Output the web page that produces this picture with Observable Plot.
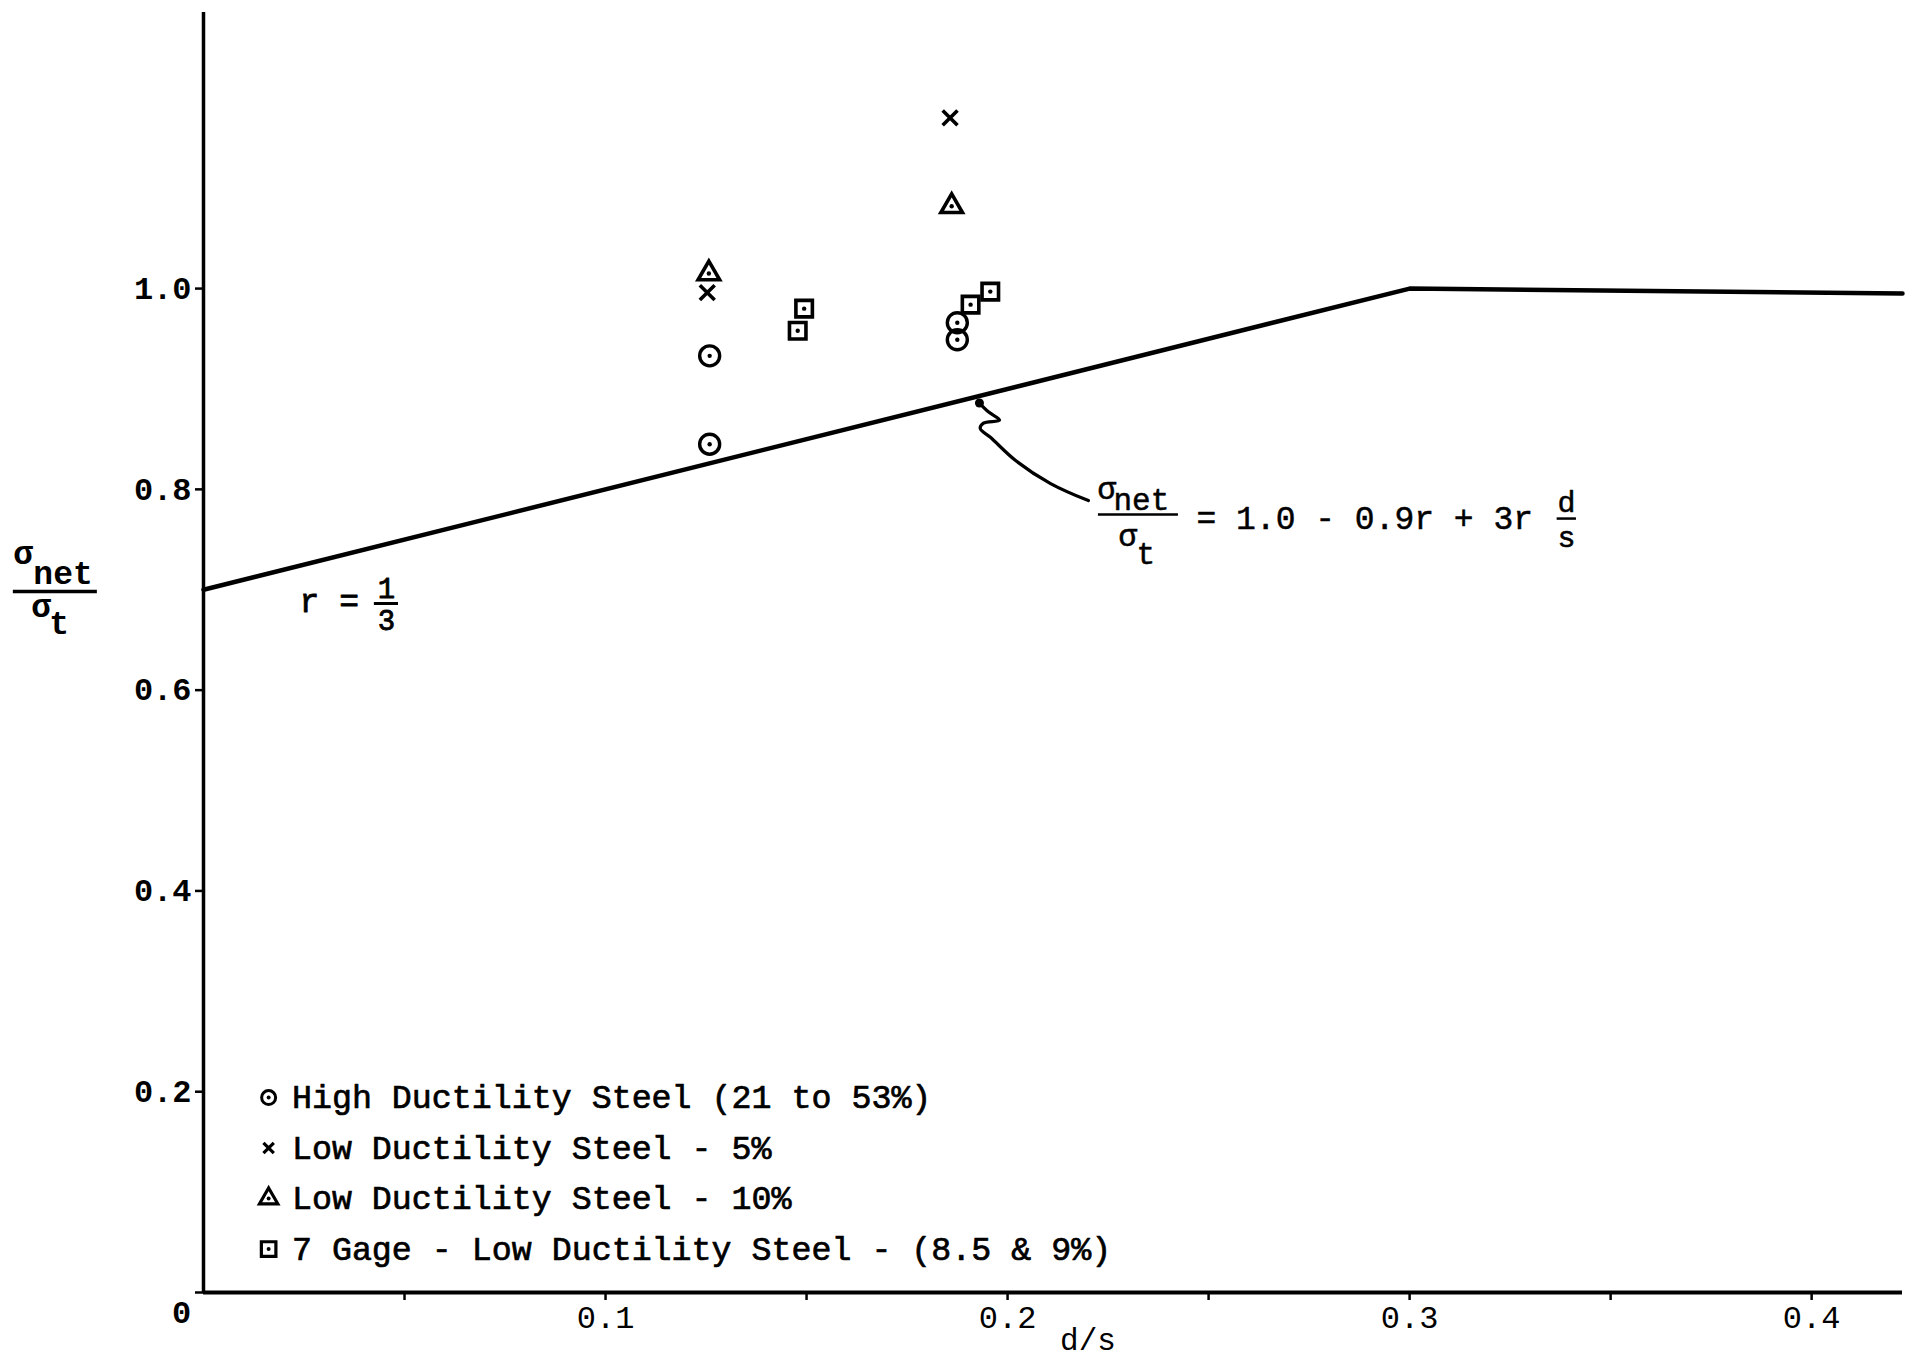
<!DOCTYPE html>
<html>
<head>
<meta charset="utf-8">
<script src="https://cdn.jsdelivr.net/npm/d3@7"></script>
<script src="https://cdn.jsdelivr.net/npm/@observablehq/plot@0.6"></script>
<style>
  body { margin: 0; background: #fff; }
  #chart svg { display: block; }
</style>
</head>
<body>
<div id="chart"></div>
<script>
// ---------- data ----------
const seriesNames = [
  "High Ductility Steel (21 to 53%)",
  "Low Ductility Steel - 5%",
  "Low Ductility Steel - 10%",
  "7 Gage - Low Ductility Steel - (8.5 & 9%)"
];
// High ductility steel (circles)
const highX = [0.1259, 0.1259, 0.1875, 0.1875];
const highY = [0.933, 0.845, 0.966, 0.949];
// Low ductility 5% (x)
const low5X = [0.1253, 0.1857];
const low5Y = [0.996, 1.170];
// Low ductility 10% (triangles)
const low10X = [0.1257, 0.1861];
const low10Y = [1.015, 1.082];
// 7 gage (squares)
const gageX = [0.1478, 0.1494, 0.1908, 0.1957];
const gageY = [0.958, 0.980, 0.984, 0.997];
// design curve sigma_net/sigma_t, r = 1/3
const curveX = [0, 0.3, 0.4226];
const curveY = [0.70, 1.0, 0.995];
// leader from the equation to the curve
const leaderX = [0.2201, 0.2107, 0.2020, 0.1958, 0.1932, 0.1940, 0.1980, 0.1953, 0.1930];
const leaderY = [0.7888, 0.8058, 0.8287, 0.8516, 0.8606, 0.8660, 0.8690, 0.8770, 0.8860];
// axes
const yTicks = [0, 0.2, 0.4, 0.6, 0.8, 1.0];
const xTicks = [0.05, 0.1, 0.15, 0.2, 0.25, 0.3, 0.35, 0.4];
const xLabelTicks = [0.1, 0.2, 0.3, 0.4];
const xDomain = [0, 0.4226];
const yDomain = [0, 1.275];

// ---------- build tables ----------
const zip = (xs, ys) => xs.map((x, i) => ({x, y: ys[i]}));
const high = zip(highX, highY);
const low5 = zip(low5X, low5Y);
const low10 = zip(low10X, low10Y);
const gage = zip(gageX, gageY);
const curve = zip(curveX, curveY);
const leader = zip(leaderX, leaderY);

// legend rows placed in data space (lower left of the frame)
const legendMarkX = 0.0162, legendTextX = 0.0220, legendTop = 0.1942, legendStep = 0.0503;
const legend = seriesNames.map((name, i) => ({name, i, x: legendMarkX, tx: legendTextX, y: legendTop - i * legendStep}));

// annotation anchors (data space)
const eqX = 0.2226, eqY = 0.7749;     // equation fraction bar start
const ylX = -0.0473, ylY = 0.6982;    // y label fraction bar start
const rX = 0.0234, rY = 0.6863;       // "r = 1/3"

const F = "Liberation Mono, Courier New, monospace";
const ink = "#000";
const T = (data, opts) => Plot.text(data, {fontFamily: F, fontSize: 33, fill: ink, ...opts});
const at = (x, y) => ({x: () => x, y: () => y});

const plot = Plot.plot({
  width: 1930,
  height: 1368,
  marginLeft: 203,
  marginRight: 28,
  marginTop: 12,
  marginBottom: 76,
  x: {domain: xDomain},
  y: {domain: yDomain},
  style: {fontFamily: F, background: "#fff", color: ink},
  marks: [
    // axes
    Plot.ruleX([0], {strokeWidth: 3.5, stroke: ink}),
    Plot.ruleY([0], {strokeWidth: 4, stroke: ink}),
    Plot.axisY({ticks: yTicks, tickSize: 8, tickPadding: 4, strokeWidth: 2.5, label: null,
      tickFormat: d => d === 0 ? "" : d.toFixed(1), fontSize: 32, fontWeight: "bold", fontFamily: F}),
    Plot.axisX({ticks: xTicks, tickSize: 8, tickPadding: 5, strokeWidth: 2.5, label: null,
      tickFormat: d => xLabelTicks.some(v => Math.abs(v - d) < 1e-9) ? d.toFixed(1) : "",
      fontSize: 32, fontFamily: F}),
    T(["0"], {x: () => 0, y: () => 0, text: d => d, dx: -22, dy: 20, fontSize: 32, fontWeight: "bold"}),
    T(["d/s"], {x: () => 0.22, frameAnchor: "bottom", text: d => d, dy: 57, fontSize: 31}),

    // design curve
    Plot.line(curve, {x: "x", y: "y", stroke: ink, strokeWidth: 4.5, strokeLinejoin: "round", strokeLinecap: "round"}),

    // data points
    Plot.dot(high, {x: "x", y: "y", r: 10, stroke: ink, strokeWidth: 3.4, fill: "none"}),
    Plot.dot(low5, {x: "x", y: "y", symbol: "times", r: 6.8, stroke: ink, strokeWidth: 3.6}),
    Plot.dot(low10, {x: "x", y: "y", symbol: "triangle", r: 8, stroke: ink, strokeWidth: 3.6, fill: "none"}),
    Plot.dot(gage, {x: "x", y: "y", symbol: "square", r: 9.3, stroke: ink, strokeWidth: 3.6, fill: "none"}),
    Plot.dot([...high, ...low10, ...gage], {x: "x", y: "y", r: 2.2, fill: ink}),

    // legend
    Plot.dot(legend.filter(d => d.i === 0), {x: "x", y: "y", r: 7, stroke: ink, strokeWidth: 3, fill: "none"}),
    Plot.dot(legend.filter(d => d.i === 1), {x: "x", y: "y", symbol: "times", r: 4.8, stroke: ink, strokeWidth: 3.2}),
    Plot.dot(legend.filter(d => d.i === 2), {x: "x", y: "y", symbol: "triangle", r: 6.8, stroke: ink, strokeWidth: 3.2, fill: "none"}),
    Plot.dot(legend.filter(d => d.i === 3), {x: "x", y: "y", symbol: "square", r: 8.2, stroke: ink, strokeWidth: 3.2, fill: "none"}),
    Plot.dot(legend.filter(d => d.i !== 1), {x: "x", y: "y", r: 2, fill: ink}),
    T(legend, {x: "tx", y: "y", text: "name", textAnchor: "start", fontSize: 33.3, stroke: ink, strokeWidth: 0.7}),

    // leader arrow
    Plot.line(leader, {x: "x", y: "y", curve: "catmull-rom", stroke: ink, strokeWidth: 3.2, strokeLinejoin: "round"}),
    Plot.dot(leader.slice(-1), {x: "x", y: "y", r: 4.5, fill: ink}),

    // equation: sigma_net / sigma_t = 1.0 - 0.9r + 3r d/s
    T(["σ"], {...at(eqX, eqY), text: d => d, textAnchor: "start", dx: -1, dy: -25, fontSize: 31, stroke: ink, strokeWidth: 0.5}),
    T(["net"], {...at(eqX, eqY), text: d => d, textAnchor: "start", dx: 15, dy: -14, fontSize: 31, stroke: ink, strokeWidth: 0.5}),
    Plot.ruleY([eqY], {x1: eqX, x2: eqX + 0.0199, stroke: ink, strokeWidth: 2.5}),
    T(["σ"], {...at(eqX, eqY), text: d => d, textAnchor: "start", dx: 20, dy: 22, fontSize: 31, stroke: ink, strokeWidth: 0.5}),
    T(["t"], {...at(eqX, eqY), text: d => d, textAnchor: "start", dx: 38, dy: 40, fontSize: 31, stroke: ink, strokeWidth: 0.5}),
    T(["= 1.0 - 0.9r + 3r"], {...at(eqX, eqY), text: d => d, textAnchor: "start", dx: 98, dy: 4, stroke: ink, strokeWidth: 0.5}),
    T(["d"], {...at(eqX, eqY), text: d => d, dx: 468, dy: -12, fontSize: 30, stroke: ink, strokeWidth: 0.5}),
    Plot.ruleY([eqY], {x1: eqX + 0.1141, x2: eqX + 0.1189, dy: 4, stroke: ink, strokeWidth: 2.5}),
    T(["s"], {...at(eqX, eqY), text: d => d, dx: 468, dy: 23, fontSize: 30, stroke: ink, strokeWidth: 0.5}),

    // y axis label: sigma_net / sigma_t
    T(["σ"], {...at(ylX, ylY), text: d => d, textAnchor: "start", dx: 0, dy: -38, fontSize: 33, fontWeight: "bold"}),
    T(["net"], {...at(ylX, ylY), text: d => d, textAnchor: "start", dx: 20, dy: -18, fontSize: 33, fontWeight: "bold"}),
    Plot.ruleY([ylY], {x1: ylX, x2: ylX + 0.0209, stroke: ink, strokeWidth: 3.5}),
    T(["σ"], {...at(ylX, ylY), text: d => d, textAnchor: "start", dx: 18, dy: 15, fontSize: 33, fontWeight: "bold"}),
    T(["t"], {...at(ylX, ylY), text: d => d, textAnchor: "start", dx: 36, dy: 32, fontSize: 33, fontWeight: "bold"}),

    // r = 1/3
    T(["r ="], {...at(rX, rY), text: d => d, textAnchor: "start", dx: 2, dy: -2, stroke: ink, strokeWidth: 0.8}),
    T(["1"], {...at(rX, rY), text: d => d, dx: 89, dy: -15, fontSize: 29, stroke: ink, strokeWidth: 0.8}),
    Plot.ruleY([rY], {x1: rX + 0.0191, x2: rX + 0.0251, stroke: ink, strokeWidth: 3}),
    T(["3"], {...at(rX, rY), text: d => d, dx: 89, dy: 17, fontSize: 29, stroke: ink, strokeWidth: 0.8})
  ]
});
document.getElementById("chart").append(plot);
</script>
</body>
</html>
